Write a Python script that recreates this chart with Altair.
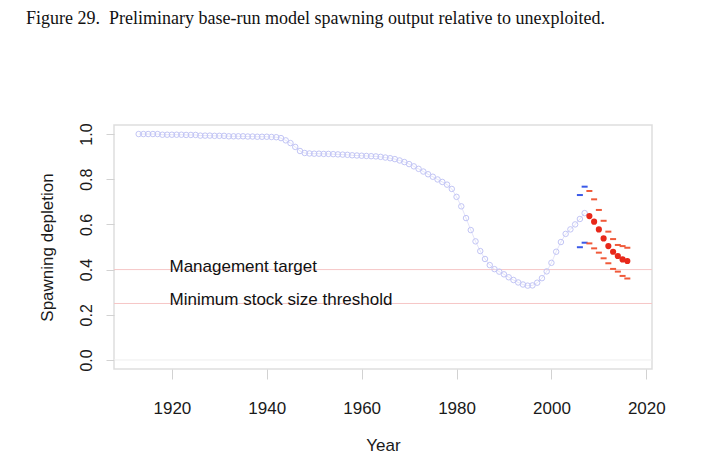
import altair as alt
import pandas as pd

# ---- data ----
hist_years = list(range(1913, 2008))
hist_depl = [
    1.000, 1.000, 1.000, 1.000, 1.000,                      # 1913-1917
    0.997, 0.997, 0.997, 0.997, 0.997, 0.996, 0.996, 0.996,  # 1918-1925
    0.993, 0.993, 0.993, 0.992, 0.992, 0.992,                # 1926-1931
    0.990, 0.990, 0.990, 0.990, 0.989, 0.989, 0.988, 0.988,  # 1932-1939
    0.988, 0.987, 0.986, 0.982, 0.972, 0.960, 0.943, 0.925,  # 1940-1947
    0.916, 0.914, 0.913, 0.913, 0.912, 0.912, 0.911, 0.910,  # 1948-1955
    0.909, 0.908, 0.906, 0.905, 0.904, 0.903, 0.902, 0.901,  # 1956-1963
    0.899, 0.896, 0.893, 0.889, 0.883, 0.876, 0.867, 0.857,  # 1964-1971
    0.846, 0.834, 0.822, 0.811, 0.799, 0.788, 0.776, 0.757,  # 1972-1979
    0.722, 0.680, 0.628, 0.575, 0.525, 0.482, 0.447, 0.420,  # 1980-1987
    0.402, 0.391, 0.379, 0.366, 0.354, 0.343, 0.334, 0.329,  # 1988-1995
    0.330, 0.342, 0.362, 0.392, 0.430, 0.479, 0.522, 0.558,  # 1996-2003
    0.578, 0.600, 0.624, 0.650,                              # 2004-2007
]

proj_years = list(range(2008, 2017))
proj_depl = [0.637, 0.612, 0.578, 0.538, 0.504, 0.479, 0.460, 0.445, 0.438]
proj_hi = [0.748, 0.711, 0.664, 0.616, 0.568, 0.535, 0.509, 0.504, 0.497]
proj_lo = [0.516, 0.494, 0.475, 0.450, 0.428, 0.403, 0.391, 0.372, 0.361]

ci_years = [2006, 2007]
ci_hi = [0.730, 0.767]
ci_lo = [0.499, 0.519]

ref_levels = [0.40, 0.25]
ref_labels = ["Management target", "Minimum stock size threshold"]
ref_label_year = 1919.5

x_ticks = [1920, 1940, 1960, 1980, 2000, 2020]
y_ticks = [0.0, 0.2, 0.4, 0.6, 0.8, 1.0]

title_text = "Figure 29.\u00a0 Preliminary base-run model spawning output relative to unexploited."

# ---- frames ----
hist_df = pd.DataFrame({"year": hist_years, "value": hist_depl})
proj_df = pd.DataFrame({"year": proj_years, "value": proj_depl})
proj_ci_df = pd.DataFrame({"year": proj_years + proj_years, "value": proj_hi + proj_lo})
ci_df = pd.DataFrame({"year": ci_years + ci_years, "value": ci_hi + ci_lo})
ref_df = pd.DataFrame({"value": ref_levels, "label": ref_labels,
                       "year": [ref_label_year] * len(ref_levels)})
zero_df = pd.DataFrame({"value": [0.0]})

SANS = "Liberation Sans"

X = alt.X(
    "year:Q",
    scale=alt.Scale(domain=[1907.8, 2021.2], nice=False, zero=False),
    axis=alt.Axis(
        values=x_ticks, format="d", title="Year", grid=False, domain=False,
        tickSize=10, tickColor="#d2d2d2", labelPadding=34, labelBaseline="alphabetic",
        labelFont=SANS, labelFontSize=17, labelColor="#1a1a1a",
        titleFont=SANS, titleFontSize=17, titleFontWeight="normal", titleColor="#1a1a1a",
        titleY=81, titleBaseline="alphabetic",
    ),
)
Y = alt.Y(
    "value:Q",
    scale=alt.Scale(domain=[-0.04, 1.04], nice=False, zero=False),
    axis=alt.Axis(
        values=y_ticks, format=".1f", title="Spawning depletion", grid=False, domain=False,
        tickSize=8, tickColor="#d2d2d2", labelPadding=15, labelAngle=270,
        labelAlign="center", labelBaseline="alphabetic",
        labelFont=SANS, labelFontSize=16, labelColor="#1a1a1a",
        titleFont=SANS, titleFontSize=17, titleFontWeight="normal", titleColor="#1a1a1a",
        titleAngle=270, titleAlign="center", titleBaseline="alphabetic",
        titleX=-62, titleY=122,
    ),
)

zero = alt.Chart(zero_df).mark_rule(color="#eeeeee", strokeWidth=1).encode(y=Y)
refs = alt.Chart(ref_df).mark_rule(color="#f6c6c6", strokeWidth=1).encode(y=Y)
ref_text = alt.Chart(ref_df).mark_text(
    align="left", baseline="alphabetic", dy=2, font=SANS, fontSize=17, color="#111111"
).encode(x=X, y=Y, text="label:N")

hist_line = alt.Chart(hist_df).mark_line(color="#dcdcf8", strokeWidth=0.8).encode(x=X, y=Y)
hist_pts = alt.Chart(hist_df).mark_point(
    shape="circle", filled=False, size=30, strokeWidth=1, color="#c2c5f5", opacity=1
).encode(x=X, y=Y)

ci_ticks = alt.Chart(ci_df).mark_tick(
    orient="horizontal", size=6, thickness=2, color="#3a5ae8", opacity=1
).encode(x=X, y=Y)
proj_ticks = alt.Chart(proj_ci_df).mark_tick(
    orient="horizontal", size=6, thickness=2, color="#f05a3a", opacity=1
).encode(x=X, y=Y)
proj_pts = alt.Chart(proj_df).mark_circle(size=38, color="#e8281a", opacity=1).encode(x=X, y=Y)

chart = alt.layer(
    zero, refs, ref_text, hist_line, hist_pts, ci_ticks, proj_ticks, proj_pts
).properties(
    width=538,
    height=244,
    padding={"left": 106, "top": 117, "right": 44, "bottom": 95},
    autosize=alt.AutoSizeParams(type="none"),
    background="white",
    title=alt.TitleParams(
        text=title_text, font="Liberation Serif", fontSize=18, fontWeight="normal",
        color="#111111", anchor="start", frame="group", dx=-88, offset=81,
        baseline="alphabetic",
    ),
).configure_view(
    stroke="#dedede", strokeWidth=1.5
)

chart.save("out.html", embed_options={"renderer": "svg", "actions": False})
